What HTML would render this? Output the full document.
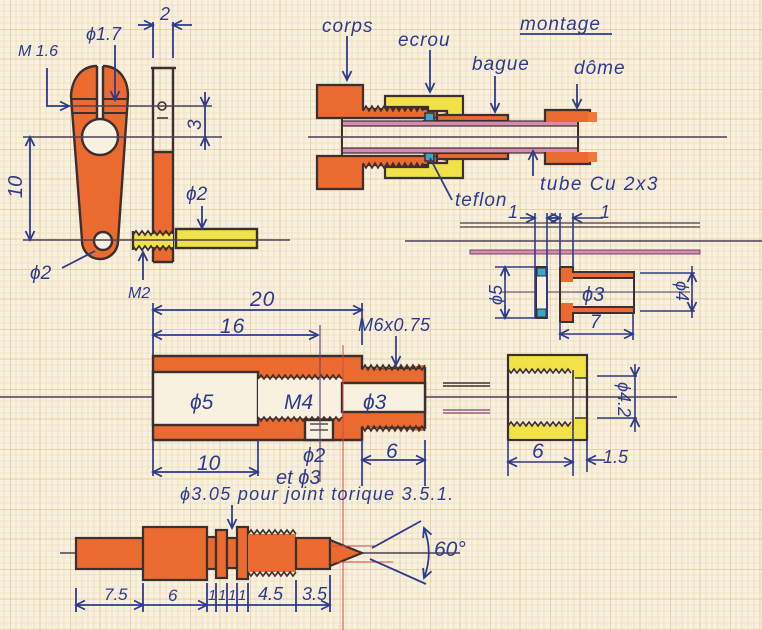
<!DOCTYPE html>
<html><head><meta charset="utf-8">
<style>
html,body{margin:0;padding:0;background:#f8f1e0;}
svg{display:block;}
text{font-family:"Liberation Sans","DejaVu Sans",sans-serif;fill:#2d3b8e;font-style:italic;}
</style></head>
<body>
<svg width="762" height="630" viewBox="0 0 762 630" xmlns="http://www.w3.org/2000/svg">
<defs>
<pattern id="g" width="60" height="60" patternUnits="userSpaceOnUse" x="10" y="29">
 <rect width="60" height="60" fill="#f8f1e0"/>
 <path d="M6 0V60M12 0V60M18 0V60M24 0V60M36 0V60M42 0V60M48 0V60M54 0V60M0 6H60M0 12H60M0 18H60M0 24H60M0 36H60M0 42H60M0 48H60M0 54H60" stroke="#efdcbb" stroke-width="0.8"/>
 <path d="M30 0V60M0 30H60" stroke="#e9cf9f" stroke-width="1"/>
 <path d="M0 0V60M0 0H60" stroke="#e2bf88" stroke-width="1.2"/>
</pattern>
<marker id="a" markerWidth="12" markerHeight="12" refX="10" refY="6" orient="auto-start-reverse" markerUnits="userSpaceOnUse">
 <path d="M1,1.5 L10,6 L1,10.5" fill="none" stroke="#2d3b8e" stroke-width="1.8"/>
</marker>
</defs>
<rect width="762" height="630" fill="url(#g)"/>

<!-- ============ LEVER (top-left) ============ -->
<g stroke="#3b2f2f" stroke-width="2.4">
 <path d="M97 66 C82 66 72 78 71 96 L82 240 A18 18 0 0 0 118 242 L128 96 C128 78 118 66 103 66 Z" fill="#ea6a30"/>
 <rect x="97" y="64" width="6" height="56" fill="#f8f1e0" stroke="none"/>
 <path d="M97 66V120M103 66V120" fill="none"/>
 <circle cx="100" cy="137" r="18" fill="#f8f1e0"/>
 <circle cx="103" cy="241" r="9" fill="#f8f1e0"/>
 <path d="M72 99H97M103 99H128M73 113H97M103 113H127" fill="none" stroke-width="2"/>
 <!-- side bar -->
 <rect x="153" y="152" width="20" height="110" fill="#ea6a30" stroke="none"/>
 <path d="M153 68V262M173 68V262M151 68H176M153 152H173M153 262H173" fill="none"/>
 <circle cx="162" cy="106" r="4" fill="none" stroke-width="1.6"/>
 <path d="M157 118H168" stroke-width="1.5"/>
 <!-- pin thread M2 -->
 <rect x="133" y="234" width="40" height="13" fill="#f2e24a" stroke="none"/>
 <polyline points="133,235 136,231 139,235 142,231 145,235 148,231 151,235 154,231 157,235 160,231 163,235 166,231 169,235 172,231" fill="none" stroke-width="1.8"/>
 <polyline points="133,246 136,250 139,246 142,250 145,246 148,250 151,246 154,250 157,246 160,250 163,246 166,250 169,246 172,250" fill="none" stroke-width="1.8"/>
 <path d="M133 231V250" fill="none"/>
 <!-- yellow rod -->
 <rect x="176" y="229" width="81" height="19" fill="#f2e24a"/>
</g>
<!-- centerlines lever -->
<g stroke="#4d3f55" stroke-width="1.5" fill="none">
 <path d="M23 137H222"/>
 <path d="M23 240H290"/>
 <path d="M62 106H212"/>
</g>
<!-- dims lever -->
<g stroke="#2d3b8e" stroke-width="1.8" fill="none">
 <path d="M47 68V106H69" marker-end="url(#a)"/>
 <path d="M115 45V100" marker-end="url(#a)"/>
 <path d="M153 22V58M173 22V58"/>
 <path d="M138 25H153" marker-end="url(#a)"/>
 <path d="M192 25H173" marker-end="url(#a)"/>
 <path d="M205 92V106" marker-end="url(#a)"/>
 <path d="M205 150V137" marker-end="url(#a)"/>
 <path d="M205 106V137"/>
 <path d="M30 137V240" marker-start="url(#a)" marker-end="url(#a)"/>
 <path d="M62 268L95 251"/>
 <path d="M202 206V228" marker-end="url(#a)"/>
 <path d="M143 280V252" marker-end="url(#a)"/>
</g>
<text x="18" y="56" font-size="16">M 1.6</text>
<text x="86" y="40" font-size="18">ϕ1.7</text>
<text x="160" y="20" font-size="18">2</text>
<text x="0" y="0" font-size="19" transform="translate(201,130) rotate(-90)">3</text>
<text x="0" y="0" font-size="20" transform="translate(22,198) rotate(-90)">10</text>
<text x="30" y="279" font-size="19">ϕ2</text>
<text x="186" y="200" font-size="19">ϕ2</text>
<text x="128" y="298" font-size="16">M2</text>

<!-- ============ ASSEMBLY (top-middle) ============ -->
<g id="asm" stroke="#3b2f2f" stroke-width="2.2">
 <path d="M317 85H363V109H437V118H317Z" fill="#ea6a30"/>
 <polyline points="363,111 366,106 369,111 372,106 375,111 378,106 381,111 384,106 387,111 390,106 393,111 396,106 399,111 402,106 405,111 408,106 411,111 414,106 417,111 420,106 423,111" fill="#ea6a30" stroke-width="1.6"/>
 <path d="M385 96H463V116H447V111H428V107H385Z" fill="#f2e24a"/>
 <path d="M437 116H447V112 M447 116H508V121H423" fill="#ea6a30"/>
 <rect x="437" y="115" width="71" height="6" fill="#ea6a30"/>
 <rect x="425" y="113" width="9" height="8" fill="#3aa6c8" stroke-width="1.5"/>
 <rect x="342" y="121" width="236" height="5" fill="#d98ab0" stroke-width="1.2"/>
 <path d="M545 122V110H590V122" fill="#ea6a30"/>
 <rect x="588" y="112" width="9" height="10" fill="#ee7a3a" stroke="none"/>
</g>
<use href="#asm" transform="matrix(1 0 0 -1 0 274)"/>
<g stroke="#3b2f2f" stroke-width="2" fill="none">
 <path d="M342 117V157"/>
 <path d="M578 122V152"/>
</g>
<path d="M308 137H727" stroke="#4d3f55" stroke-width="1.5"/>
<g stroke="#2d3b8e" stroke-width="1.8" fill="none">
 <path d="M347 36V80" marker-end="url(#a)"/>
 <path d="M430 50V92" marker-end="url(#a)"/>
 <path d="M495 76V112" marker-end="url(#a)"/>
 <path d="M577 84V108" marker-end="url(#a)"/>
 <path d="M533 176V151" marker-end="url(#a)"/>
 <path d="M430 158L452 200"/>
 <path d="M520 34H612"/>
</g>
<text x="322" y="32" font-size="19" letter-spacing="1">corps</text>
<text x="398" y="46" font-size="19" letter-spacing="1">ecrou</text>
<text x="520" y="30" font-size="19" letter-spacing="1">montage</text>
<text x="472" y="70" font-size="19" letter-spacing="1">bague</text>
<text x="574" y="74" font-size="19" letter-spacing="1">dôme</text>
<text x="540" y="190" font-size="19" letter-spacing="1.5">tube Cu 2x3</text>
<text x="455" y="206" font-size="19" letter-spacing="1">teflon</text>

<!-- ============ BAGUE DETAIL (right middle) ============ -->
<g fill="none">
 <path d="M460 223H700M460 227H700" stroke="#4a3a48" stroke-width="1.3"/>
 <rect x="470" y="250" width="230" height="4" fill="#d98ab0" stroke="#6a4a60" stroke-width="1"/>
 <path d="M405 241H762" stroke="#4d3f55" stroke-width="1.5"/>
 <path d="M500 292H690" stroke="#4d3f55" stroke-width="1"/>
</g>
<g stroke="#3b2f2f" stroke-width="2">
 <rect x="536" y="267" width="11" height="51" fill="#f8f1e0"/>
 <rect x="537" y="268" width="9" height="8" fill="#3aa6c8" stroke-width="1"/>
 <rect x="537" y="309" width="9" height="8" fill="#3aa6c8" stroke-width="1"/>
 <path d="M560 267H573V272H634V278H573V282H560Z" fill="#ea6a30" stroke="none"/>
 <path d="M560 322H573V313H634V307H573V303H560Z" fill="#ea6a30" stroke="none"/>
 <path d="M560 267V322M560 267H573V272H634V313H573V322H560M573 278H634M573 307H634" fill="none"/>
</g>
<g stroke="#2d3b8e" stroke-width="1.6" fill="none">
 <path d="M535 213V318M547 213V318M560 213V267M573 213V267"/>
 <path d="M520 218H535" marker-end="url(#a)"/>
 <path d="M562 218H547" marker-end="url(#a)"/>
 <path d="M548 218H560" marker-end="url(#a)"/>
 <path d="M603 218H573" marker-end="url(#a)"/>
 <path d="M495 267H536M495 318H536"/>
 <path d="M505 280V267" marker-end="url(#a)"/>
 <path d="M505 305V318" marker-end="url(#a)"/>
 <path d="M505 267V318"/>
 <path d="M640 273H695M640 311H695"/>
 <path d="M692 285V273" marker-end="url(#a)"/>
 <path d="M692 300V311" marker-end="url(#a)"/>
 <path d="M692 266V318"/>
 <path d="M560 322V340M633 313V340"/>
 <path d="M560 334H633" marker-start="url(#a)" marker-end="url(#a)"/>
</g>
<text x="508" y="218" font-size="18">1</text>
<text x="600" y="218" font-size="18">1</text>
<text x="582" y="301" font-size="20">ϕ3</text>
<text x="590" y="328" font-size="19">7</text>
<text x="0" y="0" font-size="18" transform="translate(502,305) rotate(-90)">ϕ5</text>
<text x="0" y="0" font-size="18" transform="translate(676,281) rotate(90)">ϕ4</text>

<!-- ============ MAIN BODY (middle) ============ -->
<path d="M0 397H677" stroke="#4d3f55" stroke-width="1.5"/>
<g stroke="#3b2f2f" stroke-width="2.4">
 <path d="M153 356H362V368H425V428H362V440H153Z" fill="#ea6a30"/>
 <polyline points="362,370 365,365 368,370 371,365 374,370 377,365 380,370 383,365 386,370 389,365 392,370 395,365 398,370 401,365 404,370 407,365 410,370 413,365 416,370 419,365 422,370 425,365" fill="#ea6a30" stroke-width="1.6"/>
 <polyline points="362,426 365,431 368,426 371,431 374,426 377,431 380,426 383,431 386,426 389,431 392,426 395,431 398,426 401,431 404,426 407,431 410,426 413,431 416,426 419,431 422,426 425,431" fill="#ea6a30" stroke-width="1.6"/>
 <rect x="153" y="372" width="105" height="53" fill="#f8f1e0"/>
 <rect x="258" y="378" width="84" height="40" fill="#f8f1e0" stroke="none"/>
 <polyline points="258,379 261,375 264,379 267,375 270,379 273,375 276,379 279,375 282,379 285,375 288,379 291,375 294,379 297,375 300,379 303,375 306,379 309,375 312,379 315,375 318,379 321,375 324,379 327,375 330,379 333,375 336,379 339,375 342,379" fill="none" stroke-width="1.6"/>
 <polyline points="258,417 261,421 264,417 267,421 270,417 273,421 276,417 279,421 282,417 285,421 288,417 291,421 294,417 297,421 300,417 303,421 306,417 309,421 312,417 315,421 318,417 321,421 324,417 327,421 330,417 333,421 336,417 339,421 342,417" fill="none" stroke-width="1.6"/>
 <rect x="342" y="383" width="83" height="29" fill="#f8f1e0"/>
 <rect x="305" y="420" width="28" height="20" fill="#f8f1e0"/>
 <path d="M310 424H328M310 430H328" fill="none" stroke-width="1.2"/>
</g>
<path d="M320 325V482" stroke="#6a4a7a" stroke-width="1.2"/>
<path d="M343 345V630" stroke="#d24a4a" stroke-width="1"/>
<g stroke-width="1.6">
 <path d="M443 383H490M443 386H490" stroke="#3b2f2f"/>
 <path d="M443 410H490M443 413H490" stroke="#9a5a7a"/>
</g>
<g stroke="#2d3b8e" stroke-width="1.7" fill="none">
 <path d="M153 303V355M362 303V345M258 440V476M153 440V476M362 440V486M425 440V486"/>
 <path d="M153 310H362" marker-start="url(#a)" marker-end="url(#a)"/>
 <path d="M153 335H318" marker-start="url(#a)" marker-end="url(#a)"/>
 <path d="M396 336V365" marker-end="url(#a)"/>
 <path d="M153 472H258" marker-start="url(#a)" marker-end="url(#a)"/>
 <path d="M362 460H425" marker-start="url(#a)" marker-end="url(#a)"/>
</g>
<text x="250" y="306" font-size="21" letter-spacing="1">20</text>
<text x="220" y="333" font-size="21" letter-spacing="1">16</text>
<text x="358" y="331" font-size="18" letter-spacing="0.5">M6x0.75</text>
<text x="190" y="409" font-size="21">ϕ5</text>
<text x="284" y="409" font-size="21">M4</text>
<text x="363" y="409" font-size="21">ϕ3</text>
<text x="197" y="470" font-size="21">10</text>
<text x="303" y="462" font-size="20">ϕ2</text>
<text x="276" y="484" font-size="20">et ϕ3</text>
<text x="386" y="458" font-size="21">6</text>

<!-- ============ CAP (right middle) ============ -->
<g stroke="#3b2f2f" stroke-width="2.2">
 <path d="M508 355H587V378H573V370H508Z" fill="#f2e24a" stroke="none"/>
 <path d="M508 440H587V418H573V425H508Z" fill="#f2e24a" stroke="none"/>
 <polyline points="508,369 511,373 514,369 517,373 520,369 523,373 526,369 529,373 532,369 535,373 538,369 541,373 544,369 547,373 550,369 553,373 556,369 559,373 562,369 565,373 568,369 571,373" fill="none" stroke-width="1.6"/>
 <polyline points="508,426 511,422 514,426 517,422 520,426 523,422 526,426 529,422 532,426 535,422 538,426 541,422 544,426 547,422 550,426 553,422 556,426 559,422 562,426 565,422 568,426 571,422" fill="none" stroke-width="1.6"/>
 <rect x="508" y="355" width="79" height="85" fill="none"/>
 <path d="M573 370V430M575 378H586M575 418H586" fill="none" stroke-width="1.6"/>
</g>
<g stroke="#2d3b8e" stroke-width="1.6" fill="none">
 <path d="M508 440V476M573 430V476M587 440V472"/>
 <path d="M508 462H573" marker-start="url(#a)" marker-end="url(#a)"/>
 <path d="M605 460H587" marker-end="url(#a)"/>
 <path d="M597 376H637M597 418H637"/>
 <path d="M635 364V376" marker-end="url(#a)"/>
 <path d="M635 432V418" marker-end="url(#a)"/>
 <path d="M635 376V418"/>
</g>
<text x="532" y="458" font-size="21">6</text>
<text x="603" y="463" font-size="18">1.5</text>
<text x="0" y="0" font-size="18" transform="translate(618,382) rotate(90)">ϕ4.2</text>

<!-- ============ NEEDLE (bottom) ============ -->
<path d="M60 553H460" stroke="#4d3f55" stroke-width="1.5"/>
<g stroke="#3b2f2f" stroke-width="2.2" fill="#ea6a30">
 <rect x="76" y="538" width="67" height="31"/>
 <rect x="143" y="527" width="64" height="53"/>
 <rect x="207" y="537" width="9" height="32"/>
 <rect x="216" y="530" width="11" height="48"/>
 <rect x="227" y="538" width="10" height="30"/>
 <rect x="237" y="527" width="11" height="52"/>
 <rect x="248" y="534" width="48" height="38" stroke="none"/>
 <polyline points="248,534 251,530 254,534 257,530 260,534 263,530 266,534 269,530 272,534 275,530 278,534 281,530 284,534 287,530 290,534 293,530 296,534" fill="none" stroke-width="1.6"/>
 <polyline points="248,572 251,576 254,572 257,576 260,572 263,576 266,572 269,576 272,572 275,576 278,572 281,576 284,572 287,576 290,572 293,576 296,572" fill="none" stroke-width="1.6"/>
 <rect x="296" y="538" width="34" height="31"/>
 <path d="M330 540L362 553L330 566Z"/>
</g>
<g stroke="#d24a4a" stroke-width="1" fill="none">
 <path d="M330 546H375M330 562H393"/>
</g>
<g stroke="#2d3b8e" stroke-width="1.8" fill="none">
 <path d="M372 548L421 521M370 559L426 584"/>
 <path d="M424 528 A68 68 0 0 1 424 578" marker-start="url(#a)" marker-end="url(#a)"/>
 <path d="M232 505V528" marker-end="url(#a)"/>
 <path d="M76 588V612M143 583V612M207 583V612M216 583V612M227 583V612M237 583V612M248 583V612M296 580V612M330 575V612"/>
 <path d="M76 605H143" marker-start="url(#a)" marker-end="url(#a)"/>
 <path d="M143 605H207" marker-end="url(#a)"/>
 <path d="M207 605H330" marker-end="url(#a)"/>
</g>
<text x="180" y="500" font-size="18" letter-spacing="1.3">ϕ3.05 pour joint torique 3.5.1.</text>
<text x="434" y="556" font-size="21">60°</text>
<text x="104" y="600" font-size="17">7.5</text>
<text x="168" y="601" font-size="17">6</text>
<text x="208" y="600" font-size="15">1</text>
<text x="218" y="600" font-size="15">1</text>
<text x="228" y="600" font-size="15">1</text>
<text x="238" y="600" font-size="15">1</text>
<text x="258" y="600" font-size="18">4.5</text>
<text x="302" y="600" font-size="18">3.5</text>
</svg>
</body></html>
